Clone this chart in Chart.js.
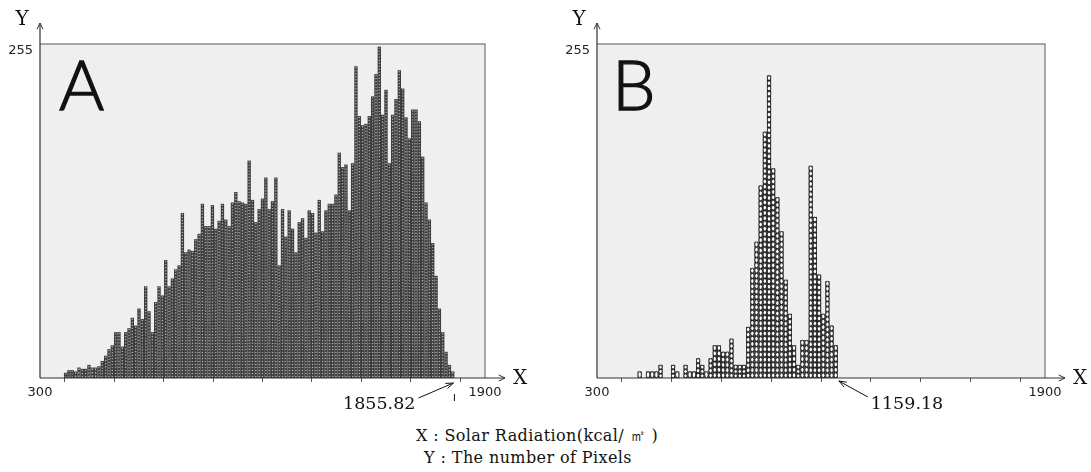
<!DOCTYPE html>
<html>
<head>
<meta charset="utf-8">
<script src="https://cdn.jsdelivr.net/npm/chart.js@4.4.0/dist/chart.umd.min.js"></script>
<style>
  body { margin: 0; background: #fff; width: 1091px; height: 472px; position: relative; overflow: hidden; }
  .panel { position: absolute; top: 0; width: 545px; height: 420px; }
  #wrapA { left: 0; }
  #wrapB { left: 546px; }
  .caption { position: absolute; font-family: 'DejaVu Serif', serif; font-size: 16px; color: #111;
             white-space: nowrap; transform: translateX(-50%); line-height: 18px; letter-spacing: 0.4px; }
</style>
</head>
<body>
<div class="panel" id="wrapA"><canvas id="chartA" width="545" height="420"></canvas></div>
<div class="panel" id="wrapB"><canvas id="chartB" width="545" height="420"></canvas></div>
<div class="caption" style="left:537px; top:427px;">X : Solar Radiation(kcal/ ㎡ )</div>
<div class="caption" style="left:528px; top:449px;">Y : The number of Pixels</div>
<script>
// Histograma A: numero de pixeles por intervalo de radiacion
const binStartA = 386;
const binWidthA = 12;
const pixelsA = [
  4, 6, 6, 5, 8, 7, 7, 10, 8, 8,
  9, 13, 17, 22, 25, 35, 35, 24, 35, 38,
  46, 40, 53, 45, 70, 51, 35, 58, 70, 63,
  90, 70, 76, 83, 86, 126, 96, 98, 97, 106,
  110, 133, 116, 116, 132, 114, 120, 133, 121, 116,
  134, 142, 135, 134, 133, 166, 136, 119, 129, 137,
  153, 129, 135, 153, 86, 129, 108, 128, 114, 96,
  119, 122, 107, 128, 126, 111, 136, 112, 128, 133,
  133, 140, 172, 161, 163, 128, 164, 238, 200, 193,
  194, 200, 215, 232, 253, 201, 220, 164, 201, 213,
  235, 221, 199, 183, 205, 205, 196, 169, 134, 121,
  103, 78, 53, 35, 20, 10, 5
];

// Histograma B
const binStartB = 445;
const binWidthB = 14.9;
const pixelsB = [
  5, 0, 5, 5, 5, 10, 0, 0, 10, 5,
  0, 10, 5, 5, 15, 10, 5, 15, 25, 25,
  20, 20, 30, 10, 10, 10, 39, 84, 104, 147,
  188, 231, 160, 138, 112, 75, 49, 25, 10, 29,
  29, 162, 123, 79, 49, 74, 40, 25
];

const xMin = 300;
const xMax = 1900;
const xTickLabels = ['300', '1900'];
const yTickLabels = ['255'];
const yTop = 255;

const tickFont = { family: 'DejaVu Sans', size: 13 };

function toPoints(start, width, counts) {
  return counts.map((c, i) => ({ x: start + width * (i + 0.5), y: c }));
}

function arrowHead(ctx, x, y, angle, len, spread) {
  ctx.beginPath();
  ctx.moveTo(x - len * Math.cos(angle - spread), y - len * Math.sin(angle - spread));
  ctx.lineTo(x, y);
  ctx.lineTo(x - len * Math.cos(angle + spread), y - len * Math.sin(angle + spread));
  ctx.stroke();
}

/* ================================
   Plugin: caja gris, barras de circulos, ejes con flechas
================================= */
const histogramPlugin = {
  id: 'histogram',
  beforeDatasetsDraw(chart, args, o) {
    const { ctx, chartArea: a } = chart;
    ctx.save();
    ctx.fillStyle = '#efefef';
    ctx.fillRect(a.left, a.top, a.right - a.left, a.bottom - a.top);
    ctx.strokeStyle = '#8c8c8c';
    ctx.lineWidth = 1.5;
    ctx.beginPath();
    ctx.moveTo(a.left, a.top);
    ctx.lineTo(a.right, a.top);
    ctx.lineTo(a.right, a.bottom);
    ctx.stroke();
    ctx.restore();
  },
  afterDatasetsDraw(chart, args, o) {
    const { ctx, chartArea: a } = chart;
    const bars = chart.getDatasetMeta(0).data;
    ctx.save();

    // cada barra es una columna de circulos apilados
    bars.forEach(bar => {
      const { x, y, base, width } = bar.getProps(['x', 'y', 'base', 'width'], true);
      const h = base - y;
      if (h <= 0.5) return;
      const n = Math.max(1, Math.round(h / o.cellH));
      const step = h / n;
      ctx.fillStyle = o.back;
      ctx.fillRect(x - width / 2, y, width, h);
      ctx.fillStyle = o.cellFill;
      ctx.strokeStyle = o.cellStroke;
      ctx.lineWidth = o.cellLine;
      const rx = Math.max(0.4, width / 2 - o.gapX);
      const ry = Math.max(0.4, step / 2 - o.gapY);
      for (let k = 0; k < n; k++) {
        const cy = base - step * (k + 0.5);
        ctx.beginPath();
        ctx.ellipse(x, cy, rx, ry, 0, 0, Math.PI * 2);
        ctx.fill();
        if (o.cellLine > 0) ctx.stroke();
      }
    });

    // ejes
    ctx.strokeStyle = '#333';
    ctx.lineWidth = 1.2;
    ctx.beginPath();
    ctx.moveTo(a.left, a.bottom);
    ctx.lineTo(a.left, a.top - 21);
    ctx.moveTo(a.left, a.bottom);
    ctx.lineTo(a.right + 20, a.bottom);
    ctx.stroke();
    ctx.lineWidth = 1;
    arrowHead(ctx, a.left, a.top - 21, -Math.PI / 2, 7, 0.45);
    arrowHead(ctx, a.right + 20, a.bottom, 0, 7, 0.45);

    ctx.fillStyle = '#111';
    ctx.font = '20px "DejaVu Serif"';
    ctx.textAlign = 'center';
    ctx.textBaseline = 'middle';
    ctx.fillText('Y', a.left - 18, 20);
    ctx.fillText('X', a.right + 35, a.bottom + 1);

    // letra del panel
    ctx.font = '300 69px Lato';
    ctx.textAlign = 'left';
    ctx.textBaseline = 'alphabetic';
    ctx.strokeStyle = '#111';
    ctx.lineWidth = 1.3;
    ctx.fillText(o.letter, a.left + o.letterDx, 110);
    ctx.strokeText(o.letter, a.left + o.letterDx, 110);

    // anotacion del final de los datos
    const last = bars[bars.length - 1].getProps(['x', 'width'], true);
    const tipX = last.x + last.width / 2;
    ctx.font = '17.5px "DejaVu Serif"';
    ctx.textBaseline = 'middle';
    ctx.lineWidth = 1;
    let sx, sy, tx, ty;
    if (o.labelSide === 'left') {
      ctx.textAlign = 'right';
      ctx.fillText(o.endLabel, tipX - 39, 404);
      sx = tipX - 36; sy = 398; tx = tipX - 1; ty = a.bottom + 5;
      ctx.beginPath();
      ctx.moveTo(tipX, a.bottom + 16);
      ctx.lineTo(tipX, a.bottom + 23);
      ctx.stroke();
    } else {
      ctx.textAlign = 'left';
      ctx.fillText(o.endLabel, tipX + 33, 404);
      sx = tipX + 30; sy = 397; tx = tipX + 1; ty = a.bottom + 3;
    }
    ctx.beginPath();
    ctx.moveTo(sx, sy);
    ctx.lineTo(tx, ty);
    ctx.stroke();
    arrowHead(ctx, tx, ty, Math.atan2(ty - sy, tx - sx), 8, 0.35);

    ctx.restore();
  }
};

function makeHistogram(canvasId, points, yWidth, padRight, style) {
  return new Chart(document.getElementById(canvasId), {
    type: 'bar',
    data: {
      datasets: [{
        data: points,
        backgroundColor: 'rgba(0,0,0,0)',
        borderWidth: 0,
        barPercentage: 1,
        categoryPercentage: 1
      }]
    },
    options: {
      responsive: false,
      animation: false,
      layout: { padding: { top: 44, right: padRight, left: 0, bottom: 0 } },
      plugins: {
        legend: { display: false },
        tooltip: { enabled: false },
        histogram: style
      },
      scales: {
        x: {
          type: 'linear',
          min: xMin,
          max: xMax,
          offset: false,
          afterBuildTicks: s => {
            s.ticks = Array.from({ length: 10 }, (_, k) => ({ value: xMin + k * (xMax - xMin) / 9 }));
          },
          afterFit: s => { s.height = 42; },
          grid: { drawOnChartArea: false, drawTicks: true, tickLength: 4, color: '#555' },
          border: { display: false },
          ticks: {
            autoSkip: false,
            maxRotation: 0,
            padding: 3,
            font: tickFont,
            color: '#222',
            callback: (v, i, t) => i === 0 ? xTickLabels[0] : (i === t.length - 1 ? xTickLabels[1] : '')
          }
        },
        y: {
          min: 0,
          max: yTop,
          afterBuildTicks: s => { s.ticks = [{ value: yTop }]; },
          afterFit: s => { s.width = yWidth; },
          grid: { display: false, drawTicks: false },
          border: { display: false },
          ticks: { padding: 7, labelOffset: 7, font: tickFont, color: '#222', callback: () => yTickLabels[0] }
        }
      }
    },
    plugins: [histogramPlugin]
  });
}

makeHistogram('chartA', toPoints(binStartA, binWidthA, pixelsA), 40, 60, {
  letter: 'A', letterDx: 19, endLabel: '1855.82', labelSide: 'left',
  cellH: 3, back: '#3c3c3c', cellFill: '#b4b4b4', cellStroke: '#3c3c3c', cellLine: 0,
  gapX: 0.9, gapY: 0.8
});

makeHistogram('chartB', toPoints(binStartB, binWidthB, pixelsB), 51, 46, {
  letter: 'B', letterDx: 15, endLabel: '1159.18', labelSide: 'right',
  cellH: 5.2, back: '#1e1e1e', cellFill: '#ffffff', cellStroke: '#1e1e1e', cellLine: 0.8,
  gapX: 0.4, gapY: 0.3
});
</script>
</body>
</html>
